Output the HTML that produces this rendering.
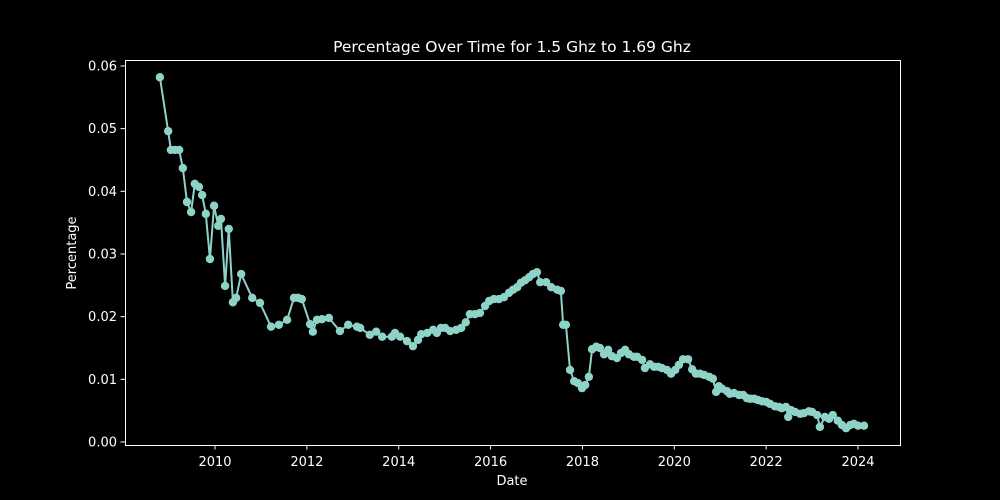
<!DOCTYPE html>
<html><head><meta charset="utf-8"><style>
html,body{margin:0;padding:0;background:#000;overflow:hidden;width:1000px;height:500px;}
svg{display:block;}
svg text{font-family:"DejaVu Sans","Liberation Sans",sans-serif;fill:#fff;}
</style></head><body>
<svg id="chart" width="1000" height="500" xmlns="http://www.w3.org/2000/svg">
<rect width="1000" height="500" fill="#000"/>
<text x="512" y="52" font-size="15.5" text-anchor="middle">Percentage Over Time for 1.5 Ghz to 1.69 Ghz</text>
<text x="512" y="485" font-size="13" text-anchor="middle">Date</text>
<text x="76" y="253" font-size="13" text-anchor="middle" transform="rotate(-90 76 253)">Percentage</text>
<g id="ticks"></g>
<g id="series"></g>
<rect x="125.5" y="60.5" width="775" height="385" fill="none" stroke="#fff" stroke-width="1"/>
</svg>
<script>
const dates=[2008.80,2008.98,2009.04,2009.13,2009.22,2009.30,2009.39,2009.48,2009.56,2009.65,2009.72,2009.80,2009.89,2009.98,2010.07,2010.13,2010.22,2010.30,2010.39,2010.46,2010.57,2010.81,2010.98,2011.22,2011.39,2011.57,2011.72,2011.81,2011.89,2012.07,2012.13,2012.22,2012.33,2012.48,2012.72,2012.90,2013.09,2013.16,2013.37,2013.51,2013.64,2013.85,2013.92,2014.03,2014.18,2014.31,2014.42,2014.49,2014.62,2014.75,2014.83,2014.92,2015.01,2015.12,2015.25,2015.36,2015.46,2015.55,2015.66,2015.77,2015.88,2015.97,2016.07,2016.18,2016.29,2016.40,2016.49,2016.58,2016.66,2016.75,2016.84,2016.92,2017.01,2017.08,2017.21,2017.32,2017.45,2017.53,2017.58,2017.64,2017.73,2017.82,2017.90,2017.99,2018.06,2018.14,2018.21,2018.30,2018.38,2018.47,2018.56,2018.64,2018.75,2018.84,2018.93,2019.01,2019.12,2019.19,2019.30,2019.36,2019.47,2019.56,2019.65,2019.73,2019.84,2019.93,2020.02,2020.10,2020.19,2020.30,2020.39,2020.47,2020.56,2020.65,2020.76,2020.84,2020.91,2020.97,2021.04,2021.15,2021.21,2021.30,2021.41,2021.50,2021.58,2021.65,2021.74,2021.82,2021.91,2022.00,2022.08,2022.19,2022.28,2022.34,2022.43,2022.48,2022.54,2022.63,2022.74,2022.82,2022.93,2023.00,2023.11,2023.17,2023.28,2023.37,2023.45,2023.56,2023.65,2023.74,2023.83,2023.91,2024.00,2024.13];
const values=[0.0582,0.0496,0.0466,0.0466,0.0466,0.0437,0.0383,0.0367,0.0412,0.0407,0.0394,0.0364,0.0292,0.0377,0.0345,0.0356,0.0249,0.0340,0.0223,0.0230,0.0268,0.0230,0.0222,0.0184,0.0187,0.0195,0.0230,0.0230,0.0228,0.0188,0.0176,0.0195,0.0196,0.0198,0.0177,0.0187,0.0184,0.0182,0.0171,0.0176,0.0168,0.0168,0.0174,0.0168,0.0161,0.0153,0.0163,0.0172,0.0174,0.0179,0.0174,0.0182,0.0182,0.0177,0.0179,0.0182,0.0191,0.0204,0.0204,0.0206,0.0217,0.0225,0.0228,0.0228,0.0231,0.0238,0.0243,0.0247,0.0254,0.0258,0.0263,0.0268,0.0271,0.0255,0.0255,0.0247,0.0243,0.0241,0.0187,0.0187,0.0115,0.0097,0.0094,0.0086,0.0091,0.0104,0.0148,0.0152,0.0150,0.0140,0.0147,0.0137,0.0134,0.0142,0.0147,0.0140,0.0136,0.0136,0.0131,0.0118,0.0124,0.0120,0.0120,0.0118,0.0115,0.0109,0.0115,0.0123,0.0132,0.0132,0.0116,0.0109,0.0109,0.0107,0.0104,0.0101,0.0080,0.0089,0.0085,0.0081,0.0077,0.0078,0.0075,0.0075,0.0070,0.0069,0.0069,0.0067,0.0065,0.0064,0.0061,0.0057,0.0056,0.0054,0.0056,0.0040,0.0051,0.0048,0.0045,0.0046,0.0049,0.0048,0.0043,0.0024,0.0040,0.0037,0.0043,0.0034,0.0027,0.0022,0.0027,0.0029,0.0026,0.0026];
const xTicks=[2010,2012,2014,2016,2018,2020,2022,2024];
const yTicks=[0.00,0.01,0.02,0.03,0.04,0.05,0.06];
const NS='http://www.w3.org/2000/svg';
function xs(v){return 215+(v-2010)*45.93;}
function ys(v){return 442-v*6267;}
const tg=document.getElementById('ticks');
xTicks.forEach(t=>{
  const l=document.createElementNS(NS,'line');
  l.setAttribute('x1',xs(t));l.setAttribute('x2',xs(t));l.setAttribute('y1',445);l.setAttribute('y2',449.5);l.setAttribute('stroke','#fff');
  
  
  tg.appendChild(l);
  const tx=document.createElementNS(NS,'text');
  tx.setAttribute('x',xs(t));tx.setAttribute('y',466);tx.setAttribute('font-size','13');tx.setAttribute('text-anchor','middle');
  tx.textContent=t;
  
  
  tg.appendChild(tx);
});
yTicks.forEach(t=>{
  const l=document.createElementNS(NS,'line');
  l.setAttribute('x1',120.5);l.setAttribute('x2',125);l.setAttribute('y1',ys(t));l.setAttribute('y2',ys(t));l.setAttribute('stroke','#fff');
  
  
  tg.appendChild(l);
  const tx=document.createElementNS(NS,'text');
  tx.setAttribute('x',117);tx.setAttribute('y',ys(t)+4.5);tx.setAttribute('font-size','13');tx.setAttribute('text-anchor','end');
  tx.textContent=t.toFixed(2);
  
  
  tg.appendChild(tx);
});
const sg=document.getElementById('series');
const pl=document.createElementNS(NS,'polyline');
pl.setAttribute('points',dates.map((d,i)=>xs(d)+','+ys(values[i])).join(' '));
pl.setAttribute('fill','none');pl.setAttribute('stroke','#8dd3c7');pl.setAttribute('stroke-width','2');


sg.appendChild(pl);
dates.forEach((d,i)=>{
  const c=document.createElementNS(NS,'circle');
  c.setAttribute('cx',xs(d));c.setAttribute('cy',ys(values[i]));c.setAttribute('r',4.2);c.setAttribute('fill','#8dd3c7');
  
  
  sg.appendChild(c);
});
</script>
</body></html>
